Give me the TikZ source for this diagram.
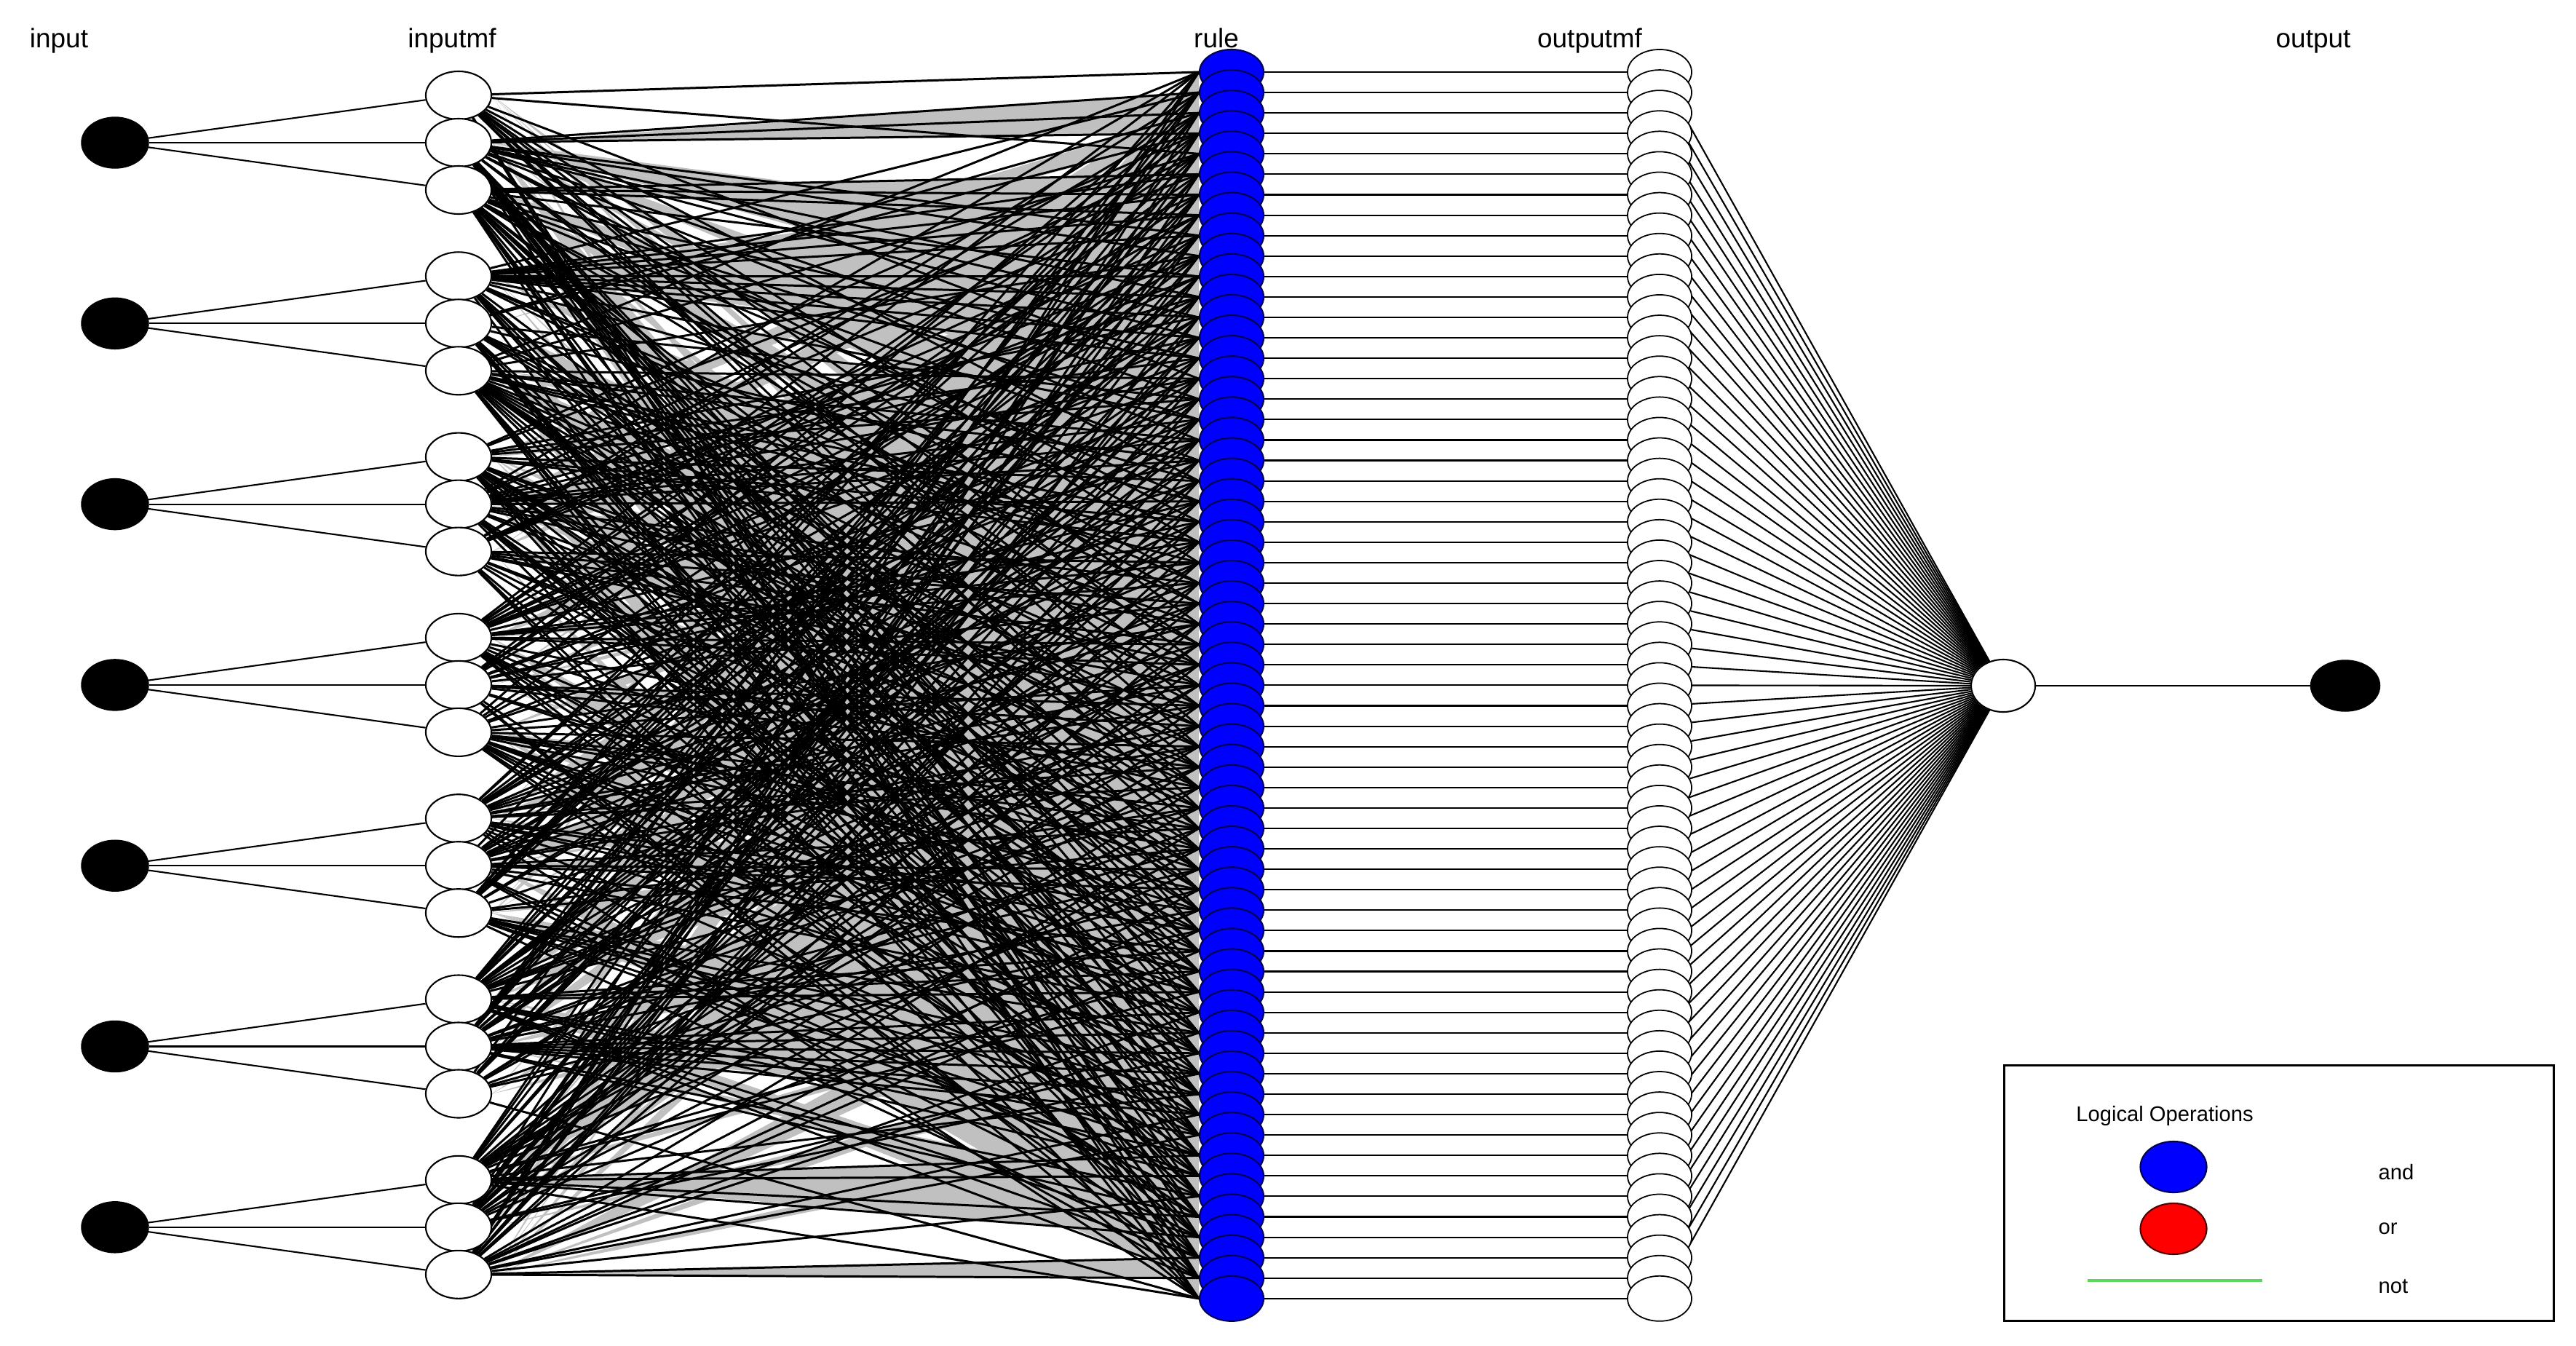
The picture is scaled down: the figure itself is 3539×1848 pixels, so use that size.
\documentclass[tikz,border=0pt]{standalone}
\usepackage{fontspec}
\setmainfont{Liberation Sans}
\usetikzlibrary{shapes.geometric}
\pgfdeclarelayer{bg}
\pgfdeclarelayer{lines}
\pgfsetlayers{bg,lines,main}
\definecolor{ruleblue}{RGB}{0,0,255}
\definecolor{ruleedge}{RGB}{0,0,80}
\definecolor{orred}{RGB}{255,0,0}
\definecolor{oredge}{RGB}{80,0,0}
\definecolor{notgreen}{RGB}{90,215,90}
\definecolor{fangray}{RGB}{192,192,192}
\begin{document}
\begin{tikzpicture}[x=0.01cm,y=-0.01cm,
  lbl/.style={font=\fontsize{10.5}{12}\selectfont, anchor=base, inner sep=0pt},
  legtext/.style={font=\fontsize{8.3}{10}\selectfont, inner sep=0pt},
  innode/.style={ellipse, draw=black, fill=black, minimum width=0.92cm, minimum height=0.70cm, inner sep=0pt},
  mfnode/.style={ellipse, draw=black, fill=white, line width=0.6pt, minimum width=0.90cm, minimum height=0.66cm, inner sep=0pt},
  rulenode/.style={ellipse, draw=ruleedge, fill=ruleblue, line width=0.6pt, minimum width=0.88cm, minimum height=0.62cm, inner sep=0pt},
  omfnode/.style={ellipse, draw=black, fill=white, line width=0.5pt, minimum width=0.88cm, minimum height=0.62cm, inner sep=0pt},
  aggnode/.style={ellipse, draw=black, fill=white, line width=0.6pt, minimum width=0.88cm, minimum height=0.72cm, inner sep=0pt},
  legblue/.style={ellipse, draw=ruleedge, fill=ruleblue, line width=0.6pt, minimum width=0.91cm, minimum height=0.70cm, inner sep=0pt},
  legred/.style={ellipse, draw=oredge, fill=orred, line width=0.6pt, minimum width=0.91cm, minimum height=0.70cm, inner sep=0pt},
  conn/.style={draw=black, line width=0.6pt},
  antconn/.style={draw=black, line width=0.85pt},
  notline/.style={draw=notgreen, line width=1.4pt}
]
\useasboundingbox (0,0) rectangle (3539,1848);
\begin{pgfonlayer}{bg}
\fill[white] (0,0) rectangle (3539,1848);
\end{pgfonlayer}

% column labels
\node[lbl] (l-input) at (81,65) {input};
\node[lbl] (l-inputmf) at (621,65) {inputmf};
\node[lbl] (l-rule) at (1671,65) {rule};
\node[lbl] (l-outputmf) at (2184,65) {outputmf};
\node[lbl] (l-output) at (3178,65) {output};

% inputs and input membership functions
\foreach \k in {1,...,7}{
  \pgfmathsetmacro\yy{196+248.3*(\k-1)}
  \node[innode] (in-\k) at (158,\yy) {};
  \foreach \m in {1,2,3}{
    \pgfmathsetmacro\ym{\yy+65*(\m-2)}
    \node[mfnode] (mf-\k-\m) at (630,\ym) {};
  }
}

% rules and output membership functions
\foreach \r in {1,...,61}{
  \pgfmathsetmacro\yr{99+28.08*(\r-1)}
  \node[rulenode] (rule-\r) at (1692,\yr) {};
}
\foreach \r in {1,...,61}{
  \pgfmathsetmacro\yr{99+28.08*(\r-1)}
  \node[omfnode] (omf-\r) at (2280,\yr) {};
}
\node[aggnode] (agg) at (2752,942) {};
\node[innode, minimum width=0.95cm] (out) at (3222,942) {};

% rule antecedent choices
\pgfmathsetseed{4711}
\foreach \r in {1,...,61}{
  \foreach \k in {1,...,7}{
    \pgfmathrandominteger{\m}{1}{3}
    \expandafter\xdef\csname ch\r-\k\endcsname{\m}
  }
}

% gray fans
\begin{pgfonlayer}{bg}
\foreach \r [evaluate=\r as \rn using int(\r+1), evaluate=\r as \rm using int(\r+2)] in {1,...,59}{
  \foreach \k in {1,...,7}{
    \edef\a{\csname ch\r-\k\endcsname}
    \edef\b{\csname ch\rn-\k\endcsname}
    \edef\c{\csname ch\rm-\k\endcsname}
    \ifx\a\b
      \fill[fangray] (mf-\k-\a.east) -- (rule-\r.west) -- (rule-\rn.west) -- cycle;
    \else
      \ifx\a\c
        \fill[fangray] (mf-\k-\a.east) -- (rule-\r.west) -- (rule-\rm.west) -- cycle;
      \fi
    \fi
  }
}
\end{pgfonlayer}

% connectors
\begin{pgfonlayer}{lines}
\foreach \k in {1,...,7}{
  \foreach \m in {1,2,3}{
    \draw[conn] (in-\k) -- (mf-\k-\m);
  }
}
\foreach \r in {1,...,61}{
  \foreach \k in {1,...,7}{
    \edef\a{\csname ch\r-\k\endcsname}
    \draw[antconn] (mf-\k-\a) -- (rule-\r.west);
  }
}
\foreach \r in {1,...,61}{
  \draw[conn] (rule-\r) -- (omf-\r);
  \draw[conn] (omf-\r) -- (agg);
}
\draw[conn] (agg) -- (out);
\end{pgfonlayer}

% legend
\node[draw=black, line width=0.8pt, minimum width=7.55cm, minimum height=3.51cm, inner sep=0pt, anchor=north west] (legend) at (2752,1462) {};
\node[legtext] (lg-title) at (2974,1533) {Logical Operations};
\node[legblue] (lg-and-sym) at (2986,1603) {};
\node[legred] (lg-or-sym) at (2986,1688) {};
\coordinate (lg-not-a) at (2868,1759);
\coordinate (lg-not-b) at (3108,1759);
\draw[notline] (lg-not-a) -- (lg-not-b);
\node[legtext, anchor=west] (lg-and) at (3267,1610) {and};
\node[legtext, anchor=west] (lg-or) at (3267,1688) {or};
\node[legtext, anchor=west] (lg-not) at (3267,1767) {not};
\end{tikzpicture}
\end{document}
